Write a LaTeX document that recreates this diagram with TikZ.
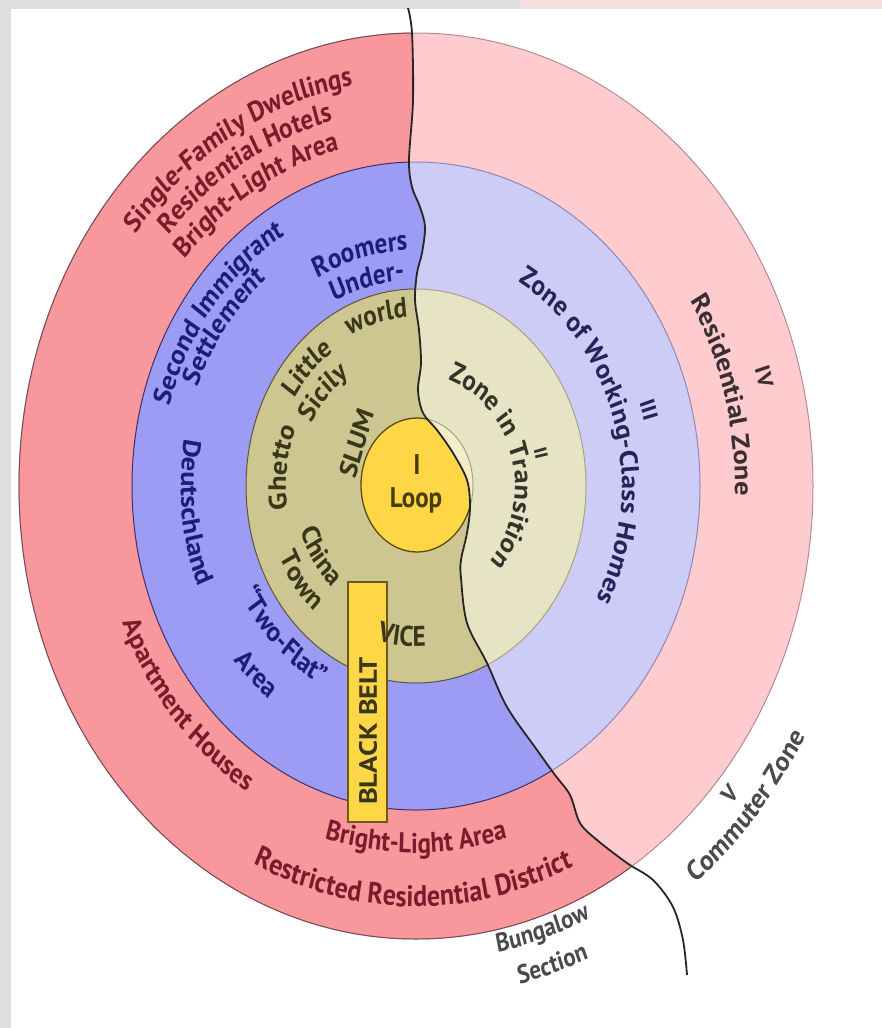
\documentclass[tikz,border=0pt]{standalone}
\usepackage{fontspec}
\setmainfont{PT Sans}
\usetikzlibrary{decorations.text,calc}
\definecolor{frameG}{HTML}{DCDEE0}
\definecolor{framePk}{HTML}{F3E1E1}
\definecolor{pinkS}{HTML}{F8989D}
\definecolor{pinkP}{HTML}{FECBCE}
\definecolor{blueS}{HTML}{9C9CF4}
\definecolor{blueP}{HTML}{CDCCF7}
\definecolor{oliveS}{HTML}{CEC690}
\definecolor{oliveP}{HTML}{E7E4C6}
\definecolor{loopS}{HTML}{FFD645}
\definecolor{loopP}{HTML}{F5EDC8}
\definecolor{bdPinkS}{HTML}{7A4B55}
\definecolor{bdPinkP}{HTML}{B58C94}
\definecolor{bdBlueS}{HTML}{3C2F6A}
\definecolor{bdBlueP}{HTML}{8E86B8}
\definecolor{bdOlS}{HTML}{5C5535}
\definecolor{bdOlP}{HTML}{A8A27E}
\definecolor{bdLoop}{HTML}{5A4A10}
\definecolor{tRed}{HTML}{7B1A2A}
\definecolor{tBlue}{HTML}{1D1C78}
\definecolor{tOl}{HTML}{3A361A}
\definecolor{tLoop}{HTML}{4A3C0A}
\definecolor{tRz}{HTML}{3B2E33}
\definecolor{tWc}{HTML}{25245A}
\definecolor{tTr}{HTML}{36342A}
\definecolor{tGray}{HTML}{4B4B4B}
\definecolor{boxBd}{HTML}{6B5A1A}
% texts are set on circles in an unstretched space (centre 416,-426.32),
% then the whole text layer is stretched vertically by 1.14
% clockwise text: tops outward
\newcommand{\cwtext}[6][30]{%
  \pgfmathsetmacro\ta{#3+#1}\pgfmathsetmacro\tb{#3-#1}%
  \pgfmathsetmacro\sx{416+#2*cos(\ta)}\pgfmathsetmacro\sy{-426.32+#2*sin(\ta)}%
  \path[decorate,decoration={text along path,text align=center,text color=#4,
    text={|\bfseries\fontsize{#5}{#5}\selectfont|#6}}]
    (\sx,\sy) arc[start angle=\ta,end angle=\tb,radius=#2];}
% counter-clockwise text: tops toward centre
\newcommand{\ccwtext}[6][30]{%
  \pgfmathsetmacro\ta{#3-#1}\pgfmathsetmacro\tb{#3+#1}%
  \pgfmathsetmacro\sx{416+#2*cos(\ta)}\pgfmathsetmacro\sy{-426.32+#2*sin(\ta)}%
  \path[decorate,decoration={text along path,text align=center,text color=#4,
    text={|\bfseries\fontsize{#5}{#5}\selectfont|#6}}]
    (\sx,\sy) arc[start angle=\ta,end angle=\tb,radius=#2];}
\newcommand{\divcurve}{plot[smooth,tension=0.55] coordinates{(408,-8) (412,-33) (413,-100) (409,-160) (412,-187) (420,-207) (425,-227) (422,-253) (417,-273) (415,-300) (419,-330) (421,-363) (418,-390) (423,-413) (437,-430) (453,-453) (467,-480) (470,-507) (467,-533) (461,-560) (461,-578) (467,-623) (487,-663) (507,-707) (537,-750) (555,-775) (570,-795) (580,-823) (597,-840) (627,-863) (653,-880) (673,-907) (683,-940) (687,-975)}}
\begin{document}
\begin{tikzpicture}[x=1pt,y=1pt,
  zoneborder/.style={line width=1pt},
  label/.style={font=\bfseries\fontsize{25}{25}\selectfont, inner sep=0pt}]
\fill[white] (0,0) rectangle (882,-1028);
\useasboundingbox (0,0) rectangle (882,-1028);
\fill[frameG] (0,0) rectangle (520,-9);
\fill[framePk] (520,0) rectangle (882,-9);
\fill[frameG] (0,0) rectangle (11,-1028);
\coordinate (C) at (416,-486);
\coordinate (L) at (417,-485);
% pale (right) colours
\fill[pinkP] (C) ellipse[x radius=397,y radius=453];
\fill[blueP] (C) ellipse[x radius=284,y radius=324];
\fill[oliveP] (C) ellipse[x radius=170,y radius=197];
\fill[loopP] (L) ellipse[x radius=56,y radius=67];
\draw[zoneborder,bdPinkP] (C) ellipse[x radius=397,y radius=453];
\draw[zoneborder,bdBlueP] (C) ellipse[x radius=284,y radius=324];
\draw[zoneborder,bdOlP] (C) ellipse[x radius=170,y radius=197];
\draw[zoneborder,bdOlP] (L) ellipse[x radius=56,y radius=67];
% saturated (left) colours
\begin{scope}
\clip \divcurve -- (687,-1028) -- (0,-1028) -- (0,0) -- (408,0) -- cycle;
\fill[pinkS] (C) ellipse[x radius=397,y radius=453];
\fill[blueS] (C) ellipse[x radius=284,y radius=324];
\fill[oliveS] (C) ellipse[x radius=170,y radius=197];
\fill[loopS] (L) ellipse[x radius=56,y radius=67];
\draw[zoneborder,bdPinkS] (C) ellipse[x radius=397,y radius=453];
\draw[zoneborder,bdBlueS] (C) ellipse[x radius=284,y radius=324];
\draw[zoneborder,bdOlS] (C) ellipse[x radius=170,y radius=197];
\draw[line width=1.3pt,bdLoop] (L) ellipse[x radius=56,y radius=67];
\end{scope}
% black belt box
\node[draw=boxBd,fill=loopS,line width=1.2pt,minimum width=39pt,minimum height=240pt,inner sep=0pt] (bbox) at (367.5,-702) {};
\begin{scope}[transform canvas={yscale=1.14}]
% zone IV (outer ring) texts
\cwtext[32]{357}{121}{tRed}{25}{Single-Family Dwellings}
\cwtext{331}{121.5}{tRed}{25}{Residential Hotels}
\cwtext{305}{122}{tRed}{25}{Bright-Light Area}
\ccwtext{317}{220}{tRed}{25}{Apartment Houses}
\ccwtext{322}{270}{tRed}{25}{Bright-Light Area}
\ccwtext[40]{369}{269.5}{tRed}{26}{Restricted Residential District}
\cwtext[10]{354}{15.4}{tRz}{21}{IV}
\cwtext{319}{14.6}{tRz}{25}{Residential Zone}
% zone III texts
\cwtext{256}{142.5}{tBlue}{25}{Second Immigrant}
\cwtext[22]{235}{144}{tBlue}{25}{Settlement}
\cwtext[20]{207}{105.3}{tBlue}{25}{Roomers}
\cwtext[20]{181}{105.2}{tBlue}{25}{Under-}
\ccwtext[24]{235}{186}{tBlue}{25}{Deutschland}
\ccwtext[26]{199}{225}{tBlue}{25}{“Two-Flat”}
\ccwtext[15]{238}{226}{tBlue}{25}{Area}
\cwtext[10]{235}{16}{tWc}{21}{III}
\cwtext[58]{206}{15.8}{tWc}{25}{Zone of Working-Class Homes}
% zone II texts
\cwtext[20]{148}{105}{tOl}{25}{world}
\cwtext[20]{144}{136.4}{tOl}{25}{Little}
\cwtext[24]{118}{138.4}{tOl}{25}{Sicily}
\cwtext[24]{130}{173}{tOl}{25}{Ghetto}
\ccwtext[22]{122}{212.7}{tOl}{25}{China}
\ccwtext[16]{150}{215.8}{tOl}{25}{Town}
\node[label,text=tOl,rotate=72] (slum) at (357,-388.6) {SLUM};
\cwtext[10]{122}{13}{tTr}{18}{II}
\cwtext[72]{99}{14.6}{tTr}{25}{Zone in Transition}
% loop
\node[label,text=tLoop] (one) at (417,-407.9) {I};
\node[label,text=tLoop] (loop) at (416,-438.6) {Loop};
% black belt
\node[label,text=tOl,rotate=90] (bbtext) at (368,-641.2) {BLACK BELT};
\ccwtext[16]{141}{264}{tOl}{25}{VICE}
% outside texts
\ccwtext[12]{417}{288}{tGray}{23}{Bungalow}
\ccwtext[11]{449}{288}{tGray}{23}{Section}
\ccwtext[6]{422}{319.3}{tGray}{22}{V}
\ccwtext[16]{447}{319.7}{tGray}{25}{Commuter Zone}
\end{scope}
% dividing line
\draw[line width=1.8pt,black!85] \divcurve;
\end{tikzpicture}
\end{document}
